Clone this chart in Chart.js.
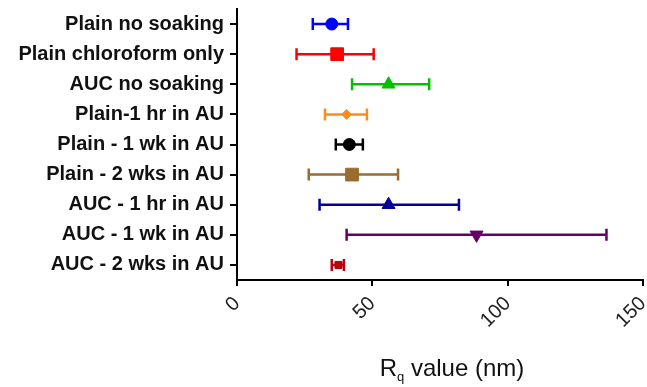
<!DOCTYPE html>
<html>
<head>
<meta charset="utf-8">
<script src="https://cdn.jsdelivr.net/npm/chart.js@4/dist/chart.umd.min.js"></script>
<style>
  html, body { margin: 0; padding: 0; background: #fff; }
  #wrap { width: 647px; height: 387px; position: relative; }
</style>
</head>
<body>
<div id="wrap"><canvas id="chart_rq"></canvas></div>
<script>
// Rq values, one row per sample
var categories = [
  "Plain no soaking",
  "Plain chloroform only",
  "AUC no soaking",
  "Plain-1 hr in AU",
  "Plain - 1 wk in AU",
  "Plain - 2 wks in AU",
  "AUC - 1 hr in AU",
  "AUC - 1 wk in AU",
  "AUC - 2 wks in AU"
];
var means = [35, 37, 56, 40.5, 41.5, 42.5, 56, 88.5, 37.5];
var lows  = [28, 22, 42.5, 32.5, 36.5, 26.5, 30.5, 40.5, 35];
var highs = [41, 50.5, 71, 48, 46.5, 59.5, 82, 136.5, 39.5];
var xTicks = [0, 50, 100, 150];

var colors = ["#0000ff", "#ff0000", "#00c000", "#ff8c1a", "#000000", "#9c6b2e", "#000099", "#660066", "#bb0010"];
var shapes = ["circle", "rect", "triangle", "rectRot", "circle", "rect", "triangle", "triangle", "rect"];
var sizes  = [6, 9, 7.5, 5, 6, 9, 7.5, 7.5, 5];
var rotations = [0, 0, 0, 0, 0, 0, 0, 180, 0];

var font = "'Liberation Sans', Arial, sans-serif";

//points for the scatter
var points = [];
categories.forEach(function(c, i) {
  points.push({ x: means[i], y: c });
});

//draws the horizontal error bars with caps
var errorBars = {
  id: "errorBars",
  beforeDatasetsDraw: function(chart) {
    var ctx = chart.ctx;
    var xs = chart.scales.x;
    var ys = chart.scales.y;
    ctx.save();
    ctx.lineWidth = 2.5;
    categories.forEach(function(c, i) {
      var y = ys.getPixelForValue(i);
      var x1 = xs.getPixelForValue(lows[i]);
      var x2 = xs.getPixelForValue(highs[i]);
      ctx.strokeStyle = colors[i];
      ctx.beginPath();
      ctx.moveTo(x1, y); ctx.lineTo(x2, y);
      ctx.moveTo(x1, y - 6); ctx.lineTo(x1, y + 6);
      ctx.moveTo(x2, y - 6); ctx.lineTo(x2, y + 6);
      ctx.stroke();
    });
    ctx.restore();
  }
};

//axis title with subscript q
var axisTitle = {
  id: "axisTitle",
  afterDraw: function(chart) {
    var ctx = chart.ctx;
    var a = chart.chartArea;
    ctx.save();
    ctx.fillStyle = "#111";
    ctx.textBaseline = "alphabetic";
    ctx.textAlign = "left";
    var big = "24px " + font, small = "13px " + font;
    ctx.font = big;
    var wR = ctx.measureText("R").width;
    var wRest = ctx.measureText(" value (nm)").width;
    ctx.font = small;
    var wQ = ctx.measureText("q").width;
    var total = wR + wQ + wRest;
    var x = (a.left + a.right) / 2 + 12 - total / 2;
    var y = 376;
    ctx.font = big;
    ctx.fillText("R", x, y);
    ctx.font = small;
    ctx.fillText("q", x + wR, y + 5);
    ctx.font = big;
    ctx.fillText(" value (nm)", x + wR + wQ, y);
    ctx.restore();
  }
};

var ctxRq = document.getElementById("chart_rq").getContext("2d");
var chartRq = new Chart(ctxRq, {
  type: "scatter",
  data: {
    datasets: [{
      data: points,
      pointStyle: shapes,
      pointRadius: sizes,
      pointRotation: rotations,
      pointBackgroundColor: colors,
      pointBorderColor: colors,
      pointBorderWidth: 1,
      clip: false
    }]
  },
  options: {
    responsive: true,
    maintainAspectRatio: false,
    animation: false,
    layout: { autoPadding: false, padding: { top: 9, right: 4, left: 0, bottom: 0 } },
    plugins: { legend: { display: false }, tooltip: { enabled: false } },
    scales: {
      x: {
        type: "linear",
        min: 0,
        max: 150,
        afterBuildTicks: function(s) { s.ticks = xTicks.map(function(v) { return { value: v }; }); },
        afterFit: function(s) { s.height = 107; s.paddingLeft = 0; s.paddingRight = 0; },
        border: { display: true, color: "#000", width: 2 },
        grid: { display: true, drawOnChartArea: false, drawTicks: true, tickLength: 6, color: "#000", lineWidth: 2 },
        ticks: {
          color: "#222",
          font: { family: font, size: 20 },
          minRotation: 45,
          maxRotation: 45,
          padding: 6
        }
      },
      y: {
        type: "category",
        labels: categories,
        offset: true,
        afterFit: function(s) { s.width = 237; s.paddingTop = 0; s.paddingBottom = 0; },
        border: { display: true, color: "#000", width: 2 },
        grid: { display: true, drawOnChartArea: false, drawTicks: true, tickLength: 7, color: "#000", lineWidth: 2, offset: false },
        ticks: {
          color: "#111",
          font: { family: font, size: 20, weight: "bold" },
          padding: 6
        }
      }
    }
  },
  plugins: [errorBars, axisTitle]
});
</script>
</body>
</html>
